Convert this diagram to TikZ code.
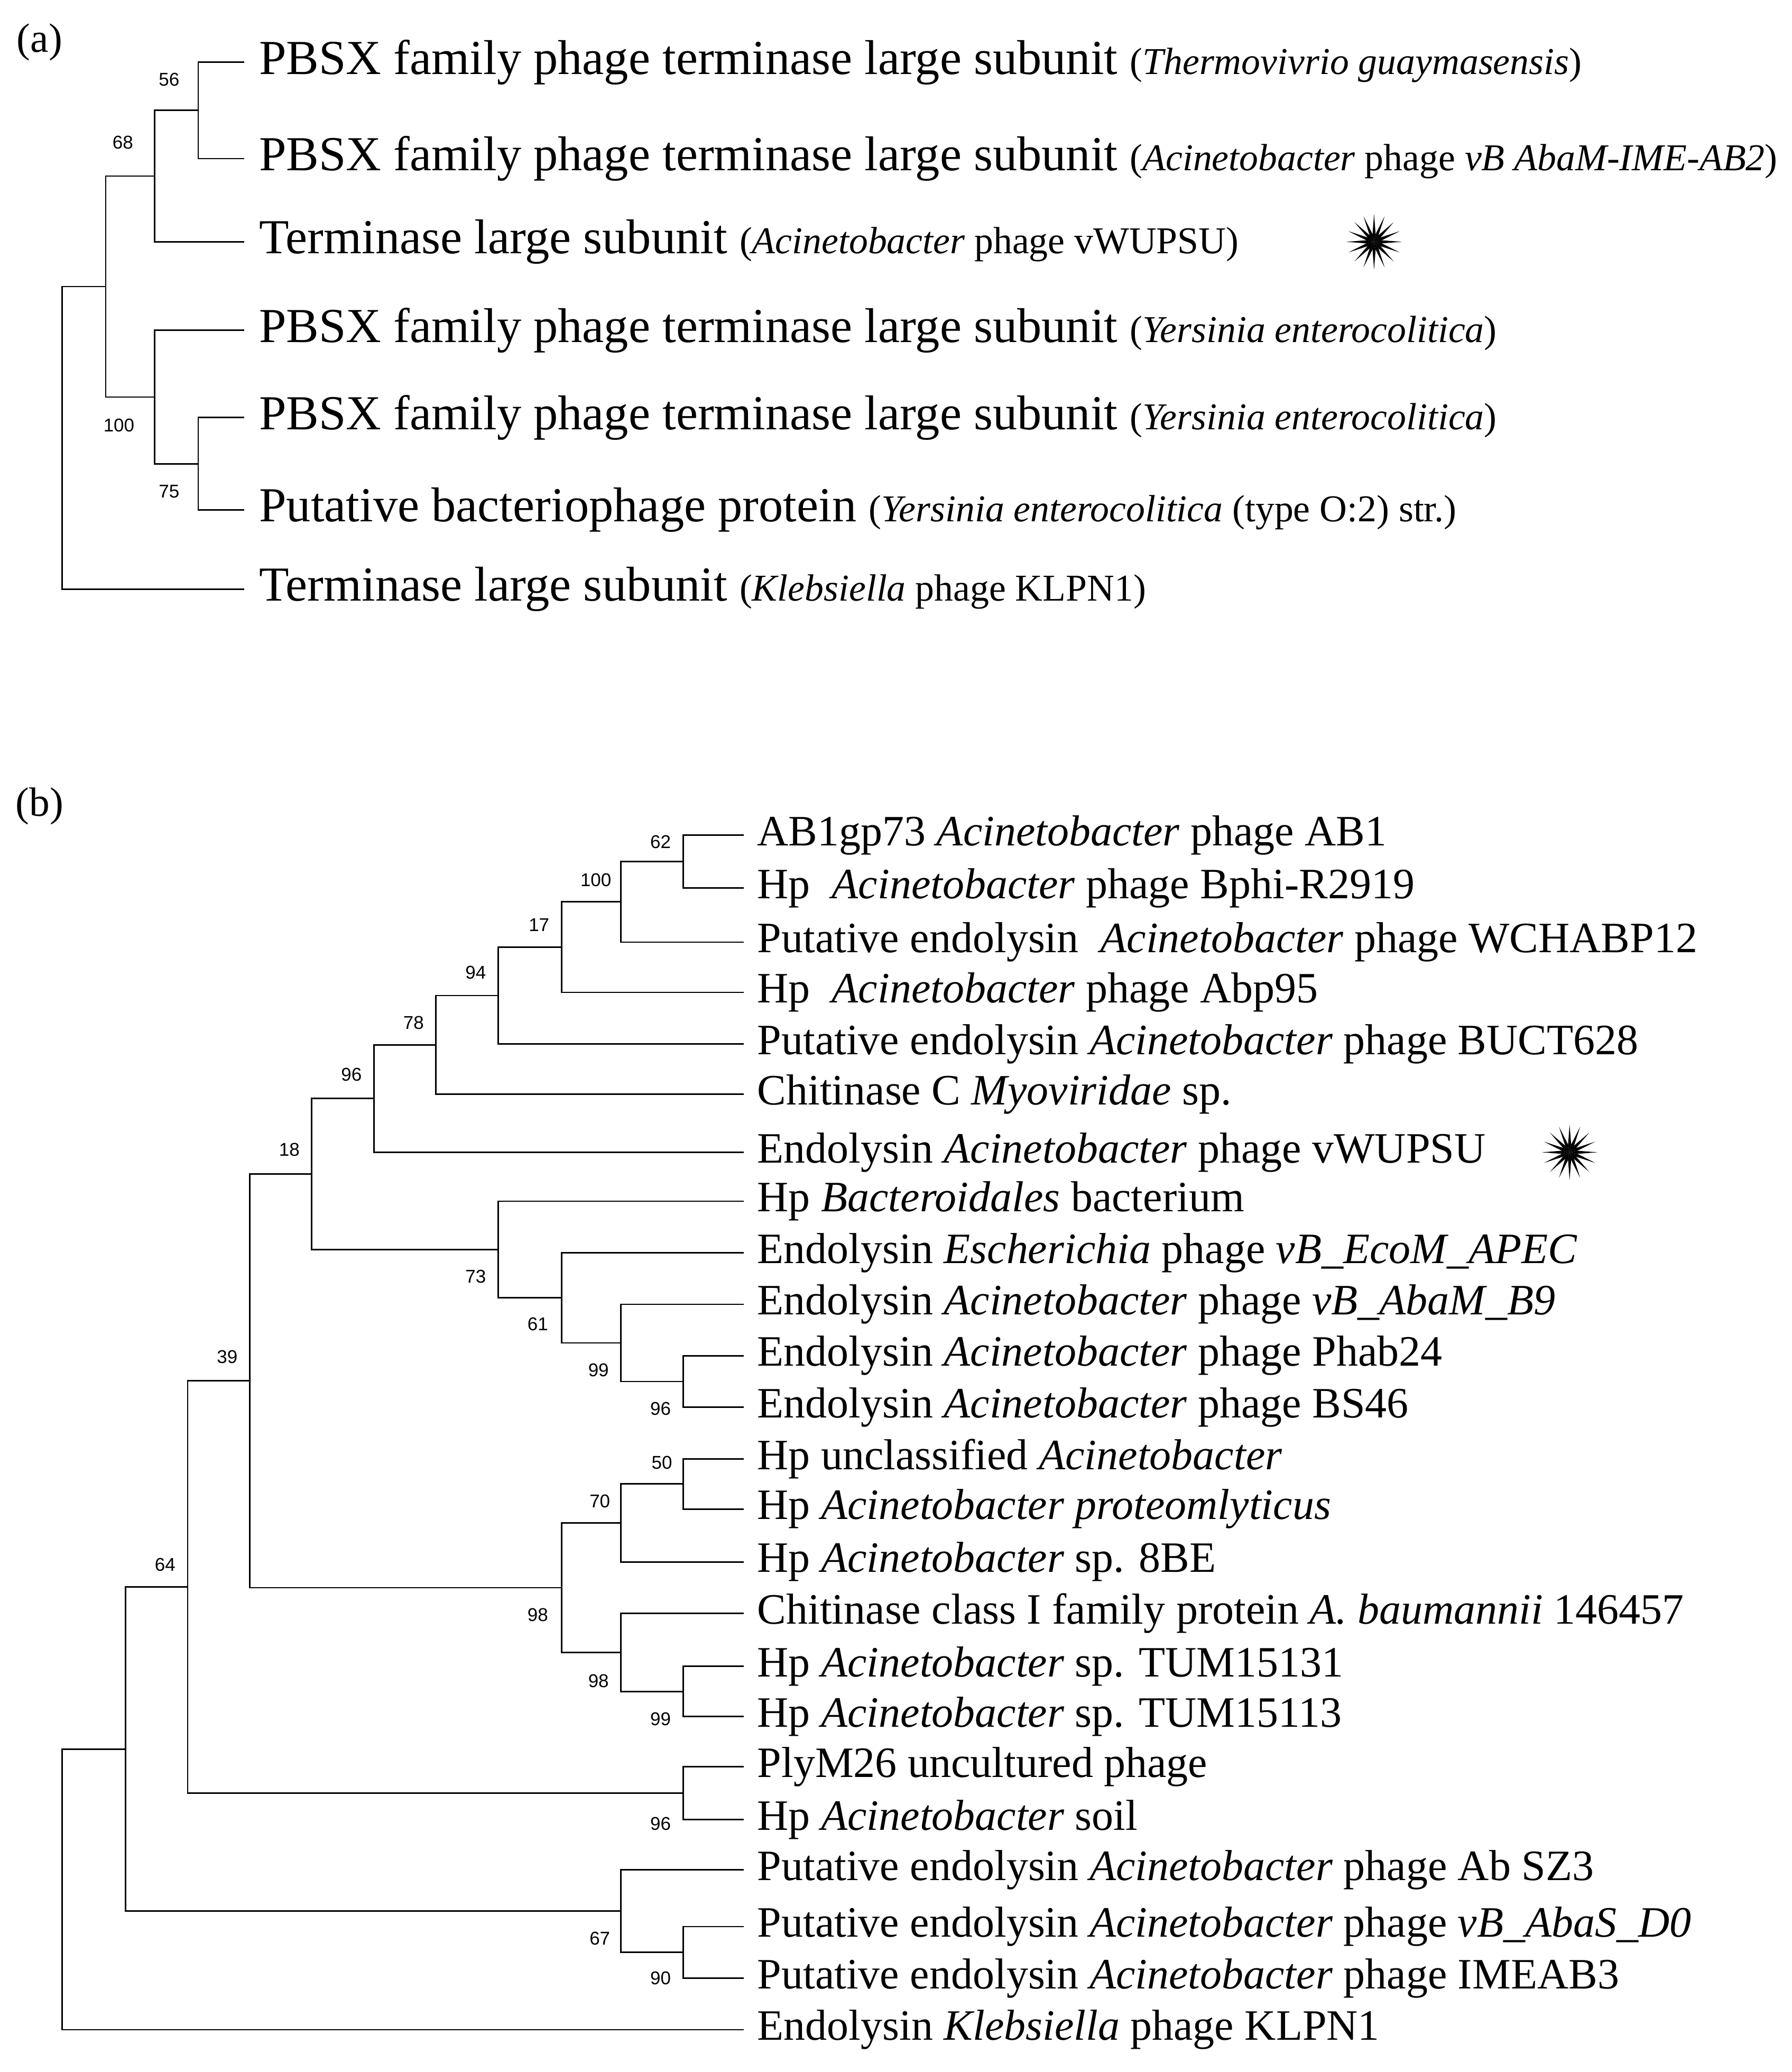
\documentclass[tikz,border=0pt]{standalone}
\usepackage{fontspec}
\setmainfont{Liberation Serif}
\newfontfamily\numf{Liberation Sans}
\usetikzlibrary{calc}
\newcommand{\clade}[4]{\path let \p1=($(#3)!.5!(#4)$) in coordinate (#1) at (#2pt,\y1);
  \draw[br] (#3) -| (#1) |- (#4);}
\newcommand{\burst}[1]{\foreach \a in {0,22.5,...,359} \fill (#1) -- ($(#1)+(\a+11.25:6)$) -- ($(#1)+(\a:21)$) -- ($(#1)+(\a-11.25:6)$) -- cycle;}
\begin{document}
\begin{tikzpicture}[x=1pt,y=-1pt,
  br/.style={line width=1.1pt},
  ta/.style={anchor=west,font=\fontsize{37}{37}\selectfont,inner sep=0pt},
  tb/.style={anchor=west,font=\fontsize{32.8}{32.8}\selectfont,inner sep=0pt},
  bs/.style={font=\numf\fontsize{14}{14}\selectfont,inner sep=0pt},
  pl/.style={font=\fontsize{31}{31}\selectfont,inner sep=0pt}]
\useasboundingbox (0,0) rectangle (1356,1568);
\newcommand{\sm}{\fontsize{28.7}{28.7}\selectfont}
\node[pl] (pa) at (30,32) {(a)};
\node[pl] (pb) at (30,610) {(b)};
% tree a
\foreach \n/\y in {a1/47,a2/120,a3/183,a4/250,a5/316,a6/386,a7/446} \coordinate (\n) at (185,\y);
\node[ta] (ta1) at (196,47) {PBSX family phage terminase large subunit {\sm(\textit{Thermovivrio guaymasensis})}};
\node[ta] (ta2) at (196,120) {PBSX family phage terminase large subunit {\sm(\textit{Acinetobacter} phage \textit{vB AbaM-IME-AB2})}};
\node[ta] (ta3) at (196,183) {Terminase large subunit {\sm(\textit{Acinetobacter} phage vWUPSU)}};
\node[ta] (ta4) at (196,250) {PBSX family phage terminase large subunit {\sm(\textit{Yersinia enterocolitica})}};
\node[ta] (ta5) at (196,316) {PBSX family phage terminase large subunit {\sm(\textit{Yersinia enterocolitica})}};
\node[ta] (ta6) at (196,386) {Putative bacteriophage protein {\sm(\textit{Yersinia enterocolitica} (type O:2) str.)}};
\node[ta] (ta7) at (196,446) {Terminase large subunit {\sm(\textit{Klebsiella} phage KLPN1)}};
\coordinate (stara) at (1040,183);
\burst{stara}
\clade{n56}{150}{a1}{a2}
\clade{n68}{117}{n56}{a3}
\clade{n75}{150}{a5}{a6}
\clade{n100}{117}{a4}{n75}
\clade{na}{80}{n68}{n100}
\clade{ra}{47}{na}{a7}
\node[bs] at (128,60) {56};
\node[bs] at (93,108) {68};
\node[bs] at (90,322) {100};
\node[bs] at (128,372) {75};
% tree b
\foreach \n/\y in {b1/632,b2/672,b3/713,b4/751,b5/790,b6/828,b7/872,b8/909,b9/948,b10/987,b11/1026,b12/1065,b13/1104,b14/1142,b15/1182,b16/1221,b17/1261,b18/1299,b19/1337,b20/1377,b21/1415,b22/1458,b23/1497,b24/1536} \coordinate (\n) at (563,\y);
\node[tb] (tb1) at (573,632) {AB1gp73 \textit{Acinetobacter} phage AB1};
\node[tb] (tb2) at (573,672) {Hp\ \ \textit{Acinetobacter} phage Bphi-R2919};
\node[tb] (tb3) at (573,713) {Putative endolysin\ \ \textit{Acinetobacter} phage WCHABP12};
\node[tb] (tb4) at (573,751) {Hp\ \ \textit{Acinetobacter} phage Abp95};
\node[tb] (tb5) at (573,790) {Putative endolysin \textit{Acinetobacter} phage BUCT628};
\node[tb] (tb6) at (573,828) {Chitinase C \textit{Myoviridae} sp.};
\node[tb] (tb7) at (573,872) {Endolysin \textit{Acinetobacter} phage vWUPSU};
\node[tb] (tb8) at (573,909) {Hp \textit{Bacteroidales} bacterium};
\node[tb] (tb9) at (573,948) {Endolysin \textit{Escherichia} phage \textit{vB\_EcoM\_APEC}};
\node[tb] (tb10) at (573,987) {Endolysin \textit{Acinetobacter} phage \textit{vB\_AbaM\_B9}};
\node[tb] (tb11) at (573,1026) {Endolysin \textit{Acinetobacter} phage Phab24};
\node[tb] (tb12) at (573,1065) {Endolysin \textit{Acinetobacter} phage BS46};
\node[tb] (tb13) at (573,1104) {Hp unclassified \textit{Acinetobacter}};
\node[tb] (tb14) at (573,1142) {Hp \textit{Acinetobacter proteomlyticus}};
\node[tb] (tb15) at (573,1182) {Hp \textit{Acinetobacter} sp. 8BE};
\node[tb] (tb16) at (573,1221) {Chitinase class I family protein \textit{A. baumannii} 146457};
\node[tb] (tb17) at (573,1261) {Hp \textit{Acinetobacter} sp. TUM15131};
\node[tb] (tb18) at (573,1299) {Hp \textit{Acinetobacter} sp. TUM15113};
\node[tb] (tb19) at (573,1337) {PlyM26 uncultured phage};
\node[tb] (tb20) at (573,1377) {Hp \textit{Acinetobacter} soil};
\node[tb] (tb21) at (573,1415) {Putative endolysin \textit{Acinetobacter} phage Ab SZ3};
\node[tb] (tb22) at (573,1458) {Putative endolysin \textit{Acinetobacter} phage \textit{vB\_AbaS\_D0}};
\node[tb] (tb23) at (573,1497) {Putative endolysin \textit{Acinetobacter} phage IMEAB3};
\node[tb] (tb24) at (573,1536) {Endolysin \textit{Klebsiella} phage KLPN1};
\coordinate (starb) at (1188,872);
\burst{starb}
\clade{c62}{517}{b1}{b2}
\clade{c100}{470}{c62}{b3}
\clade{c17}{425}{c100}{b4}
\clade{c94}{377}{c17}{b5}
\clade{c78}{330}{c94}{b6}
\clade{c96}{283}{c78}{b7}
\clade{c96b}{517}{b11}{b12}
\clade{c99}{470}{b10}{c96b}
\clade{c61}{425}{b9}{c99}
\clade{c73}{377}{b8}{c61}
\clade{c18}{236}{c96}{c73}
\clade{c50}{517}{b13}{b14}
\clade{c70}{470}{c50}{b15}
\clade{c99b}{517}{b17}{b18}
\clade{c98}{470}{b16}{c99b}
\clade{c98b}{425}{c70}{c98}
\clade{c39}{189}{c18}{c98b}
\clade{c96c}{517}{b19}{b20}
\clade{c64}{142}{c39}{c96c}
\clade{c90}{517}{b22}{b23}
\clade{c67}{470}{b21}{c90}
\clade{cx}{95}{c64}{c67}
\clade{rb}{47}{cx}{b24}
\foreach \t/\x/\y in {62/500/637,100/451/666,17/408/700,94/360/736,78/313/774,96/266/813,18/219/870,73/360/966,61/407/1002,99/453/1037,96/500/1066,39/172/1027,50/501/1107,70/454/1136,98/407/1222,98/453/1272,99/500/1301,64/125/1184,96/500/1380,67/454/1467,90/500/1497}
  \node[bs] at (\x,\y) {\t};
\end{tikzpicture}
\end{document}
